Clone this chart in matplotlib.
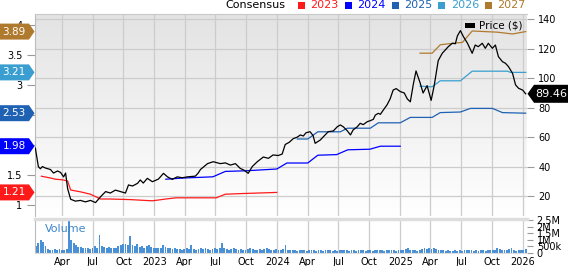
import numpy as np
import pandas as pd
import matplotlib
matplotlib.use('Agg')
import matplotlib.pyplot as plt
import matplotlib.transforms as mtransforms
from matplotlib.colors import LinearSegmentedColormap
from matplotlib.patches import Polygon, Rectangle

# --- price ($), right axis
price_dates = ['2022-01-12', '2022-01-21', '2022-01-27', '2022-02-02', '2022-02-11', '2022-02-26',
               '2022-03-07', '2022-03-19', '2022-03-28', '2022-04-06', '2022-04-12', '2022-04-18',
               '2022-04-27', '2022-05-11', '2022-05-26', '2022-06-10', '2022-06-25', '2022-07-10',
               '2022-07-25', '2022-08-09', '2022-08-23', '2022-09-07', '2022-09-22', '2022-10-07',
               '2022-10-16', '2022-10-28', '2022-11-12', '2022-11-20', '2022-11-29', '2022-12-11',
               '2022-12-26', '2023-01-13', '2023-01-28', '2023-02-09', '2023-02-23', '2023-03-10',
               '2023-03-25', '2023-04-09', '2023-05-03', '2023-05-12', '2023-05-18', '2023-06-08',
               '2023-06-25', '2023-07-16', '2023-07-31', '2023-08-15', '2023-08-30', '2023-09-13',
               '2023-09-25', '2023-10-07', '2023-10-19', '2023-11-03', '2023-11-21', '2023-12-06',
               '2023-12-20', '2024-01-04', '2024-01-16', '2024-01-25', '2024-02-06', '2024-02-18',
               '2024-03-01', '2024-03-10', '2024-03-19', '2024-03-27', '2024-04-08', '2024-04-17',
               '2024-04-23', '2024-05-08', '2024-05-23', '2024-06-01', '2024-06-16', '2024-06-28',
               '2024-07-07', '2024-07-16', '2024-07-28', '2024-08-06', '2024-08-14', '2024-08-26',
               '2024-09-04', '2024-09-13', '2024-09-25', '2024-10-04', '2024-10-13', '2024-10-19',
               '2024-10-28', '2024-11-03', '2024-11-12', '2024-11-23', '2024-12-02', '2024-12-11',
               '2024-12-20', '2025-01-01', '2025-01-13', '2025-01-22', '2025-01-31', '2025-02-09',
               '2025-02-17', '2025-03-01', '2025-03-10', '2025-03-22', '2025-04-03', '2025-04-12',
               '2025-04-24', '2025-05-06', '2025-05-15', '2025-05-24', '2025-06-05', '2025-06-14',
               '2025-06-20', '2025-06-29', '2025-07-08', '2025-07-20', '2025-08-03', '2025-08-12',
               '2025-08-21', '2025-09-02', '2025-09-11', '2025-09-20', '2025-10-02', '2025-10-11',
               '2025-10-20', '2025-11-01', '2025-11-10', '2025-11-19', '2025-12-01', '2025-12-10',
               '2025-12-19', '2025-12-31', '2026-01-09']
price_vals = [52.6, 40, 38.5, 40, 39, 38, 35.6, 37, 36, 33, 35.6, 25,
              17.8, 16.5, 17, 16, 17, 15.5, 19.5, 23, 22, 24, 23, 22,
              27.5, 26.8, 28.6, 30.9, 28.8, 32, 29.7, 31.5, 35.4, 33, 31.3, 33,
              32.4, 33, 33.5, 35.8, 38, 42, 43.3, 42, 42.5, 41, 42, 38.8,
              37.5, 35.4, 40, 43.3, 46.5, 45.6, 47.9, 47.5, 48.5, 55, 56.5, 59,
              60, 61.5, 60.8, 63, 63.7, 61, 55.8, 58, 61.5, 63.7, 64.2, 67.1,
              68.3, 67, 64.2, 61.5, 64.9, 67, 69.4, 68.5, 70.5, 71.2, 72.1, 75,
              76.2, 75.5, 78.5, 82, 86, 92, 93, 91, 90, 86, 84, 96,
              105, 97, 90, 95, 85, 95, 112, 117, 119.3, 121.5, 123.8, 123.5,
              128.8, 132.4, 128.3, 123.8, 117, 122.6, 121.5, 123.8, 120.4, 123.8, 120.4, 122.6,
              114.7, 111.3, 110.2, 107.9, 103.4, 95.5, 93.2, 92, 89.46]

# --- consensus EPS estimates, left axis
eps23_dates = ['2022-01-30', '2022-02-26', '2022-03-13', '2022-04-03', '2022-04-18', '2022-04-27',
               '2022-05-26', '2022-06-25', '2022-07-25', '2022-08-23', '2022-10-22', '2022-12-26',
               '2023-02-04', '2023-03-06', '2023-07-04', '2023-07-31', '2023-09-13', '2023-12-31']
eps23 = [1.48, 1.45, 1.43, 1.42, 1.40, 1.25, 1.22, 1.18, 1.10, 1.10, 1.09, 1.07,
         1.10, 1.12, 1.12, 1.18, 1.19, 1.21]
eps24_dates = ['2023-02-04', '2023-03-28', '2023-06-24', '2023-07-31', '2023-09-28', '2023-12-31',
               '2024-01-30', '2024-04-01', '2024-05-01', '2024-06-26', '2024-07-29', '2024-10-03',
               '2024-11-03', '2025-01-01']
eps24 = [1.43, 1.45, 1.47, 1.56, 1.57, 1.60, 1.70, 1.70, 1.83, 1.84, 1.92, 1.93, 1.98, 1.98]
eps25_dates = ['2024-03-01', '2024-04-01', '2024-05-01', '2024-07-07', '2024-07-28', '2024-10-04',
               '2024-10-28', '2025-01-01', '2025-01-31', '2025-04-06', '2025-04-30', '2025-06-29',
               '2025-07-29', '2025-10-02', '2025-11-01', '2026-01-09']
eps25 = [2.10, 2.10, 2.22, 2.22, 2.28, 2.28, 2.37, 2.37, 2.46, 2.46, 2.54, 2.55,
         2.61, 2.61, 2.54, 2.53]
eps26_dates = ['2025-03-01', '2025-04-06', '2025-04-30', '2025-06-29', '2025-08-03', '2025-11-16',
               '2025-11-25', '2026-01-09']
eps26 = [2.98, 2.97, 3.07, 3.07, 3.23, 3.23, 3.21, 3.21]
eps27_dates = ['2025-03-01', '2025-04-06', '2025-04-30', '2025-05-30', '2025-07-05', '2025-08-03',
               '2025-10-17', '2025-12-01', '2026-01-09']
eps27 = [3.53, 3.53, 3.67, 3.69, 3.71, 3.90, 3.88, 3.85, 3.89]

years = ['2023', '2024', '2025', '2026', '2027']
colors = ['#ff1a1a', '#0000ff', '#1f62b3', '#3a9fd0', '#b07a2e']

# --- weekly volume (millions)
vol_start = '2022-01-14'
vol_vals = [0.5, 0.75, 0.95, 0.8, 0.5,
            0.3, 0.25, 0.25, 0.3, 0.25, 0.3, 0.2, 0.25, 0.3,
            2.4, 1.0, 0.75, 0.6, 0.45,
            0.45, 0.4, 0.35, 0.4, 0.3, 0.35, 0.5, 0.35,
            1.36, 0.5, 0.45, 0.4, 0.45, 0.35, 0.4, 0.35,
            0.55, 0.6, 0.7, 0.65, 0.6,
            1.3, 0.6, 0.5, 0.7, 0.45, 0.5, 0.4, 0.55,
            0.6, 0.45, 0.4, 0.35, 0.4, 0.35,
            0.6, 0.45, 0.4, 0.35, 0.3, 0.35, 0.3,
            0.3, 0.25, 0.3, 0.35, 0.3,
            0.6, 0.3, 0.25, 0.3, 0.35, 0.3, 0.35, 0.3, 0.25, 0.3, 0.35, 0.3, 0.4,
            0.73, 0.35, 0.3, 0.25, 0.3, 0.35, 0.3, 0.25, 0.3, 0.2, 0.25, 0.3, 0.35, 0.3,
            0.25, 0.2, 0.3, 0.25, 0.3, 0.35, 0.3, 0.2, 0.25, 0.3, 0.2, 0.25, 0.3,
            0.6,
            0.25, 0.2, 0.25, 0.2, 0.15, 0.2, 0.25, 0.2, 0.15, 0.2,
            0.2, 0.25, 0.15, 0.2, 0.2, 0.15, 0.2, 0.25, 0.2, 0.15,
            0.2, 0.15, 0.2, 0.2, 0.25, 0.2, 0.15, 0.2, 0.2, 0.15,
            0.2, 0.25, 0.2, 0.15, 0.2, 0.2, 0.15, 0.2, 0.25, 0.2,
            0.2, 0.15, 0.2, 0.25, 0.2, 0.2, 0.15, 0.2,
            0.2, 0.25, 0.3, 0.35, 0.25, 0.2, 0.2, 0.15, 0.2, 0.3,
            0.35, 0.3, 0.35, 0.3, 0.35, 0.3, 0.25, 0.2, 0.2, 0.15,
            0.2, 0.15, 0.15, 0.2, 0.15, 0.2, 0.15, 0.2, 0.25, 0.2,
            0.2, 0.15, 0.2, 0.15, 0.2, 0.2, 0.15, 0.2, 0.2, 0.25,
            0.2, 0.35, 0.3, 0.25, 0.2, 0.25, 0.3, 0.35, 0.2, 0.15,
            0.2, 0.25, 0.2, 0.3]

price_ticks = [20, 40, 60, 80, 100, 120, 140]
eps_ticks = [1, 1.5, 2, 2.5, 3, 3.5, 4]
# 2 and 2.5 sit under the estimate tags, so their labels never show
eps_labels = ['1', '1.5', '', '', '3', '3.5', '4']
vol_ticks = [0, 0.5, 1, 1.5, 2, 2.5]
vol_labels = ['0', '500k', '1M', '1.5M', '2M', '2.5M']

W, H = 568, 266
fig = plt.figure(figsize=(W / 100, H / 100), dpi=100)


def box(l, t, r, b):
    return [l / W, 1 - b / H, (r - l) / W, (b - t) / H]


grid_c = '#cccccc'
x0, x1 = pd.Timestamp('2022-01-11'), pd.Timestamp('2026-01-13')
qticks = pd.date_range('2022-04-01', '2026-01-01', freq='QS')
qlabels = [str(d.year) if d.month == 1 else d.strftime('%b') for d in qticks]

ax = fig.add_axes(box(35, 14, 527, 216))
axp = ax.twinx()
axv = fig.add_axes(box(35, 219, 527, 253))

# gradient background
cmap = LinearSegmentedColormap.from_list('bg', ['#ffffff', '#e3e3e3'])
ax.imshow(np.linspace(0, 1, 256).reshape(-1, 1), cmap=cmap, extent=(0, 1, 0, 1),
          transform=ax.transAxes, aspect='auto', origin='lower', zorder=0)

ax.set_xlim(x0, x1)
axv.set_xlim(x0, x1)
ax.set_ylim(0.817, 4.183)
axp.set_ylim(6.4, 143.7)
axv.set_ylim(0, 2.58)

# grid
for d in qticks:
    ax.axvline(d, color=grid_c, lw=0.9, zorder=1)
    axv.axvline(d, color=grid_c, lw=0.9, zorder=0)
htr = mtransforms.blended_transform_factory(ax.transAxes, axp.transData)
for p in price_ticks:
    ax.plot([0, 1], [p, p], transform=htr, color=grid_c, lw=0.9, zorder=1)

# estimate lines
series = [(eps23_dates, eps23), (eps24_dates, eps24), (eps25_dates, eps25),
          (eps26_dates, eps26), (eps27_dates, eps27)]
for (d, v), c in zip(series, colors):
    ax.plot(pd.to_datetime(d), v, color=c, lw=0.9, zorder=3)

# price
axp.plot(pd.to_datetime(price_dates), price_vals, color='black', lw=0.9)

# volume
vdates = pd.date_range(vol_start, periods=len(vol_vals), freq='7D')
axv.bar(vdates, vol_vals, width=5.5, color='#4a90d6', zorder=2)
axv.text(0.02, 0.7, 'Volume', transform=axv.transAxes, color='#3f87cc', fontsize=8,
         va='center', ha='left')

# axes styling
for a in (ax, axp, axv):
    for s in a.spines.values():
        s.set_visible(False)
    a.set_xticks(qticks)
ax.spines['left'].set_visible(True)
ax.spines['left'].set_color('#bbbbbb')
ax.spines['top'].set_visible(True)
ax.spines['top'].set_color('#c8c8c8')
axv.spines['left'].set_visible(True)
axv.spines['left'].set_color('#bbbbbb')
axv.spines['top'].set_visible(True)
axv.spines['top'].set_color('#dddddd')
axv.spines['top'].set_linewidth(2.5)
axv.spines['bottom'].set_visible(True)
axv.spines['bottom'].set_color('#dddddd')

ax.tick_params(axis='x', bottom=False, labelbottom=False)
axp.tick_params(axis='x', bottom=False, labelbottom=False)
ax.set_yticks(eps_ticks)
ax.set_yticklabels(eps_labels)
ax.tick_params(axis='y', length=6, color='#999999', labelsize=7, pad=3)
axp.set_yticks(price_ticks)
axp.tick_params(axis='y', length=5, color='#999999', labelsize=7, pad=3)
axv.yaxis.tick_right()
axv.set_yticks(vol_ticks)
axv.set_yticklabels(vol_labels)
axv.tick_params(axis='y', length=4, color='#999999', labelsize=7, pad=3)
axv.set_xticklabels(qlabels)
axv.tick_params(axis='x', length=0, labelsize=7, pad=3)

# left tags
ytr = ax.get_yaxis_transform()
aw = 492.0
hh = 8 / 60.0
for (d, v), c in zip(series, colors):
    val = v[-1]
    poly = Polygon([(-35 / aw, val - hh), (-6 / aw, val - hh), (-0.5 / aw, val),
                    (-6 / aw, val + hh), (-35 / aw, val + hh)], closed=True,
                   transform=ytr, facecolor=c, edgecolor='none', clip_on=False, zorder=10)
    ax.add_patch(poly)
    ax.text(-21 / aw, val, '%.2f' % val, transform=ytr, color='white', fontsize=7.5,
            ha='center', va='center', zorder=11, clip_on=False)

# right price tag
ptr = axp.get_yaxis_transform()
last = price_vals[-1]
ph = 9 / 1.4708
axp.add_patch(Polygon([(1 + 0.5 / aw, last), (1 + 7 / aw, last - ph), (1 + 41 / aw, last - ph),
                       (1 + 41 / aw, last + ph), (1 + 7 / aw, last + ph)], closed=True,
                      transform=ptr, facecolor='black', edgecolor='none', clip_on=False, zorder=10))
axp.text(1 + 24 / aw, last, '%.2f' % last, transform=ptr, color='white', fontsize=8,
         ha='center', va='center', clip_on=False, zorder=11)

# price legend inside plot
axp.add_patch(Rectangle((465 / W, 1 - 28 / H), 10 / W, 5.5 / H, transform=fig.transFigure,
                        facecolor='black', edgecolor='none', clip_on=False))
fig.text(479 / W, 1 - 25.5 / H, 'Price ($)', fontsize=7.5, va='center', ha='left')

# consensus legend
fig.text(225 / W, 1 - 5 / H, 'Consensus', fontsize=8, va='center', ha='left')
sq_x = [298, 345, 391.7, 438.3, 485]
for sx, y, c in zip(sq_x, years, colors):
    fig.patches.append(Rectangle((sx / W, 1 - 8.5 / H), 7 / W, 7 / H, transform=fig.transFigure,
                                 facecolor=c, edgecolor='none'))
    fig.text((sx + 12.5) / W, 1 - 5 / H, y, fontsize=8, color=c, va='center', ha='left')

fig.savefig('out.png', dpi=100)
